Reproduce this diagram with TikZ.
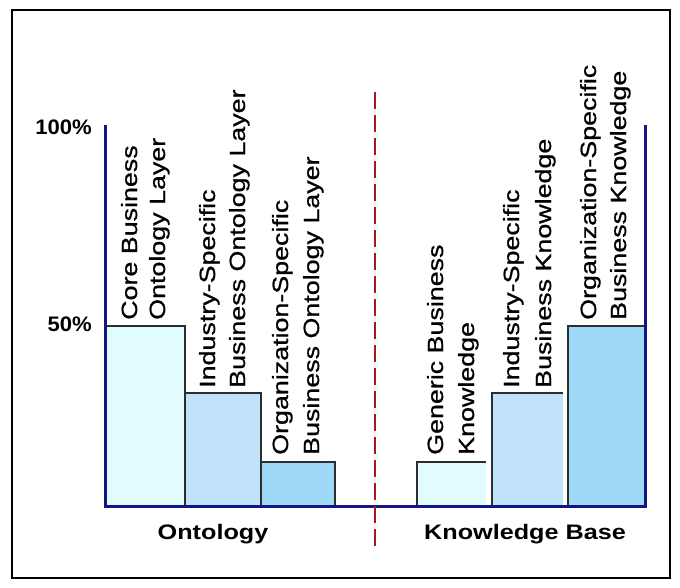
\documentclass[tikz,border=0pt]{standalone}
\usepackage{fontspec}
\setmainfont{Liberation Sans}
\newfontfamily\barfont[FakeStretch=1.22,FakeBold=0.8]{Liberation Sans}
\newfontfamily\pctfont[FakeStretch=1.05]{Liberation Sans}
\newfontfamily\catfont[FakeStretch=1.2]{Liberation Sans}
\definecolor{axisnavy}{RGB}{20,20,130}
\definecolor{divred}{RGB}{165,25,25}
\definecolor{edgegray}{RGB}{45,45,45}
\definecolor{barpale}{RGB}{225,252,255}
\definecolor{barmid}{RGB}{192,226,250}
\definecolor{bardeep}{RGB}{158,218,248}
\begin{document}
\begin{tikzpicture}[x=1pt,y=1pt,
  barlbl/.style={rotate=90, anchor=base west, inner sep=0pt, font=\barfont\fontsize{22}{23}\selectfont},
  pct/.style={anchor=base east, inner sep=0pt, font=\pctfont\bfseries\fontsize{21}{22}\selectfont},
  catlbl/.style={anchor=base, inner sep=0pt, font=\catfont\bfseries\fontsize{21}{22}\selectfont},
  axisline/.style={draw=axisnavy, line width=3pt},
  baredge/.style={draw=edgegray, line width=2pt},
  divider/.style={draw=divred, line width=2.8pt, dash pattern=on 17pt off 6pt},
  frameline/.style={draw=black, line width=2.5pt}
]
\useasboundingbox (0,0) rectangle (680,588);
\fill[white] (0,0) rectangle (680,588);
\draw[frameline] (12,10) rectangle (670,578);

% named axis corners
\coordinate (lt) at (105,463);
\coordinate (lb) at (105,81);
\coordinate (rb) at (645,81);
\coordinate (rt) at (645,463);
\coordinate (dtop) at (375,496);
\coordinate (dbot) at (375,40);

% bars (fills)
\fill[barpale] (105,81) rectangle (185,262);
\fill[barmid]  (185,81) rectangle (261,195);
\fill[bardeep] (261,81) rectangle (335,126);
\fill[barpale] (417,81) rectangle (486,126);
\fill[barmid]  (492,81) rectangle (563,195);
\fill[bardeep] (568,81) rectangle (645,262);

% bar edges
\draw[baredge] (105,262) -- (185,262) -- (185,81);
\draw[baredge] (185,195) -- (261,195) -- (261,81);
\draw[baredge] (261,126) -- (335,126) -- (335,81);
\draw[baredge] (417,81) -- (417,126) -- (486,126);
\draw[baredge] (492,81) -- (492,195) -- (563,195);
\draw[baredge] (568,81) -- (568,262) -- (645,262);

% axes
\draw[axisline] (lt) -- (lb) -- (rb) -- (rt);

% divider
\draw[divider] (dtop) -- (dbot);

% scale labels
\node[pct] (p100) at (92,453) {100\%};
\node[pct] (p50) at (92,256) {50\%};

% category labels
\node[catlbl] (ont) at (213,48) {Ontology};
\node[catlbl] (kb) at (525,48) {Knowledge Base};

% bar labels
\node[barlbl] (c1) at (137,268) {Core Business};
\node[barlbl] (c2) at (165,268) {Ontology Layer};
\node[barlbl] (i1) at (215,200) {Industry-Specific};
\node[barlbl] (i2) at (245,200) {Business Ontology Layer};
\node[barlbl] (o1) at (288,133) {Organization-Specific};
\node[barlbl] (o2) at (319,133) {Business Ontology Layer};
\node[barlbl] (g1) at (443,133) {Generic Business};
\node[barlbl] (g2) at (474,133) {Knowledge};
\node[barlbl] (k1) at (519,200) {Industry-Specific};
\node[barlbl] (k2) at (551,200) {Business Knowledge};
\node[barlbl] (r1) at (596,268) {Organization-Specific};
\node[barlbl] (r2) at (626,268) {Business Knowledge};
\end{tikzpicture}
\end{document}
